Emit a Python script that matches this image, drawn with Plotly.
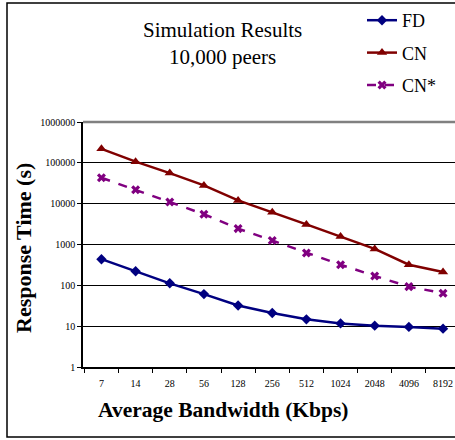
import plotly.graph_objects as go

categories = ["7", "14", "28", "56", "128", "256", "512", "1024", "2048", "4096", "8192"]
fd = [437, 222, 112, 61, 32, 21, 14.7, 11.7, 10.3, 9.6, 8.7]
cn = [220000, 107000, 56000, 28000, 12000, 6200, 3100, 1560, 780, 320, 213]
cn_star = [43000, 22000, 11000, 5500, 2450, 1250, 620, 320, 170, 93, 64]
ytick_vals = [1, 10, 100, 1000, 10000, 100000, 1000000]
ytick_text = ["1", "10", "100", "1000", "10000", "100000", "1000000"]

SERIF = "Liberation Serif"
W, H = 455, 440
L, T, B = 83, 122, 73
PW, PH = W - L, H - T - B


def px(x):
    return (x - L) / PW


def py(y):
    return (H - B - y) / PH


fig = go.Figure()
fig.add_trace(go.Scatter(x=categories, y=fd, name="FD", mode="lines+markers",
                         line=dict(color="#000080", width=2.5),
                         marker=dict(symbol="diamond", size=8, color="#000080"),
                         legendgroup="a"))
fig.add_trace(go.Scatter(x=categories, y=cn, name="CN", mode="lines+markers",
                         line=dict(color="#800000", width=2.5),
                         marker=dict(symbol="triangle-up", size=9, color="#800000"),
                         legendgroup="b"))
fig.add_trace(go.Scatter(x=categories, y=cn_star, name="CN*", mode="lines+markers",
                         line=dict(color="#800080", width=2.5, dash="dash"),
                         marker=dict(symbol="x", size=8, color="#800080"),
                         legendgroup="c"))

fig.update_layout(
    width=W, height=H,
    margin=dict(l=L, r=0, t=T, b=B, autoexpand=False),
    paper_bgcolor="white", plot_bgcolor="white",
    font=dict(family=SERIF, color="black"),
    showlegend=True,
    legend=dict(xref="container", yref="container", x=362 / W, y=1 - 2 / H,
                xanchor="left", yanchor="top",
                font=dict(family=SERIF, size=18), tracegroupgap=6,
                bgcolor="rgba(0,0,0,0)"),
    xaxis=dict(type="category", range=[-0.54, 10.35], tickson="boundaries",
               automargin=False, tickangle=0,
               ticks="outside", ticklen=4, tickcolor="black",
               ticklabelstandoff=6,
               showline=True, linecolor="black", linewidth=1.5,
               showgrid=False, tickfont=dict(family=SERIF, size=10)),
    yaxis=dict(type="log", range=[0, 6], tickvals=ytick_vals, ticktext=ytick_text,
               automargin=False,
               ticks="outside", ticklen=4, tickcolor="black",
               showline=True, linecolor="black", linewidth=1.5,
               showgrid=True, gridcolor="black", gridwidth=1,
               zeroline=False, tickfont=dict(family=SERIF, size=10)),
)

# top plot border (gray)
fig.add_shape(type="line", xref="paper", yref="paper", x0=0, x1=1, y0=1, y1=1,
              line=dict(color="#808080", width=2.5))
# outer frame
fig.add_shape(type="rect", xref="paper", yref="paper",
              x0=px(7), x1=1.2, y0=py(437), y1=py(3),
              line=dict(color="black", width=1.5), layer="below")

fig.add_annotation(text="Simulation Results<br>10,000 peers", xref="paper", yref="paper",
                   x=px(222), y=py(44), xanchor="center", yanchor="middle",
                   showarrow=False, font=dict(family=SERIF, size=21), align="center")
fig.add_annotation(text="<b>Average Bandwidth (Kbps)</b>", xref="paper", yref="paper",
                   x=px(223), y=py(410), xanchor="center", yanchor="middle",
                   showarrow=False, font=dict(family=SERIF, size=21.5))
fig.add_annotation(text="<b>Response Time (s)</b>", xref="paper", yref="paper",
                   x=px(23), y=py(248), xanchor="center", yanchor="middle",
                   textangle=-90, showarrow=False, font=dict(family=SERIF, size=22))

fig.write_html("out.html", config={"displayModeBar": False},
               post_script="document.body.style.margin='0';")
